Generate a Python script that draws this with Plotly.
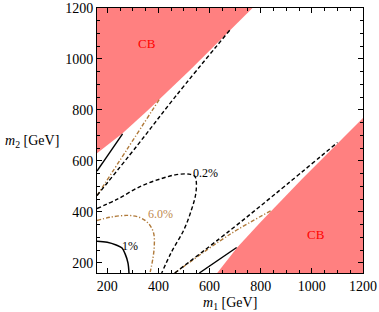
import plotly.graph_objects as go

# ---- data (m1, m2 in GeV) ----
cb_upper_x = [160, 260, 360, 524, 768, 160]
cb_upper_y = [630, 708, 800, 957, 1200, 1200]
cb_lower_x = [630, 708, 800, 957, 1200, 1200]
cb_lower_y = [160, 260, 360, 524, 768, 160]

c1_x = [160, 200, 235, 258, 270, 281, 285]
c1_y = [285, 281, 270, 258, 235, 200, 160]

c6_x = [160, 212, 283, 329, 361, 381, 384, 378, 368]
c6_y = [366, 379, 386, 377, 355, 318, 266, 214, 164]

c02_x = [160, 240, 330, 410, 470, 520, 542, 548, 546, 530, 500, 450, 413]
c02_y = [413, 450, 500, 530, 546, 548, 540, 520, 470, 410, 330, 240, 160]

solid_up_x = [160, 260]
solid_up_y = [560, 706]
solid_lo_x = [560, 706]
solid_lo_y = [160, 260]

brown_up_x = [160, 278, 404]
brown_up_y = [464, 646, 842]
brown_lo_x = [464, 680, 845]
brown_lo_y = [160, 312, 407]

dash_up_x = [160, 317, 467, 680]
dash_up_y = [464, 660, 853, 1114]
dash_lo_x = [464, 680, 853, 1100]
dash_lo_y = [160, 327, 467, 672]

labels_txt = ["1%", "6.0%", "0.2%"]
labels_x = [290, 407, 583]
labels_y = [266, 393, 554]
label_cols = ["black", "#C08A50", "black"]

cb_txt = ["CB", "CB"]
cb_lx = [355, 1016]
cb_ly = [1059, 312]

ticks_major = [200, 400, 600, 800, 1000, 1200]

BROWN = "#B07A3A"
DASH = "4px,2.5px"
DASHDOT = "4px,2px,1.2px,2px"
FONT = "Liberation Serif"

fig = go.Figure()

for xs, ys in [(cb_upper_x, cb_upper_y), (cb_lower_x, cb_lower_y)]:
    fig.add_trace(go.Scatter(x=xs, y=ys, fill="toself", fillcolor="#FF8080",
                             line=dict(width=0), mode="lines", hoverinfo="skip"))

def curve(xs, ys, color, dash, width=1.4, shape="spline"):
    fig.add_trace(go.Scatter(x=xs, y=ys, mode="lines",
                             line=dict(color=color, dash=dash, width=width, shape=shape,
                                       smoothing=1.0)))

curve(c1_x, c1_y, "black", "solid", 1.5)
curve(c6_x, c6_y, BROWN, DASHDOT, 1.4)
curve(c02_x, c02_y, "black", DASH, 1.4)
curve(solid_up_x, solid_up_y, "black", "solid", 1.4, "linear")
curve(solid_lo_x, solid_lo_y, "black", "solid", 1.4, "linear")
curve(brown_up_x, brown_up_y, BROWN, DASHDOT, 1.4)
curve(brown_lo_x, brown_lo_y, BROWN, DASHDOT, 1.4)
curve(dash_up_x, dash_up_y, "black", DASH, 1.4)
curve(dash_lo_x, dash_lo_y, "black", DASH, 1.4)

for t, x, y, c in zip(labels_txt, labels_x, labels_y, label_cols):
    fig.add_annotation(x=x, y=y, text=t, showarrow=False,
                       font=dict(family=FONT, size=12, color=c))
for t, x, y in zip(cb_txt, cb_lx, cb_ly):
    fig.add_annotation(x=x, y=y, text=t, showarrow=False,
                       font=dict(family=FONT, size=13, color="#FF0000"))

fig.add_annotation(xref="paper", yref="paper", x=-0.135, y=0.495, xanchor="right",
                   yanchor="middle", showarrow=False,
                   text="<i>m</i><sub>2</sub> [GeV]",
                   font=dict(family=FONT, size=14, color="black"))
fig.add_annotation(xref="paper", yref="paper", x=0.5, y=-0.115, xanchor="center",
                   yanchor="middle", showarrow=False,
                   text="<i>m</i><sub>1</sub> [GeV]",
                   font=dict(family=FONT, size=14, color="black"))

axis_common = dict(range=[160, 1200], tickvals=ticks_major,
                   ticktext=[str(v) for v in ticks_major],
                   ticks="inside", ticklen=5, tickwidth=1, tickcolor="black",
                   showline=True, linecolor="black", linewidth=1, mirror="ticks",
                   showgrid=False, zeroline=False, automargin=False,
                   tickfont=dict(family=FONT, size=14, color="black"),
                   minor=dict(dtick=50, tick0=0, ticks="inside", ticklen=3,
                              tickcolor="black", showgrid=False))

fig.update_xaxes(**axis_common)
fig.update_yaxes(**axis_common)

fig.update_layout(width=379, height=312, showlegend=False,
                  margin=dict(l=97, r=16, t=8, b=39),
                  plot_bgcolor="white", paper_bgcolor="white")

fig.write_html("out.html", config={"displayModeBar": False},
               post_script="document.body.style.margin='0';document.body.style.overflow='hidden';")
